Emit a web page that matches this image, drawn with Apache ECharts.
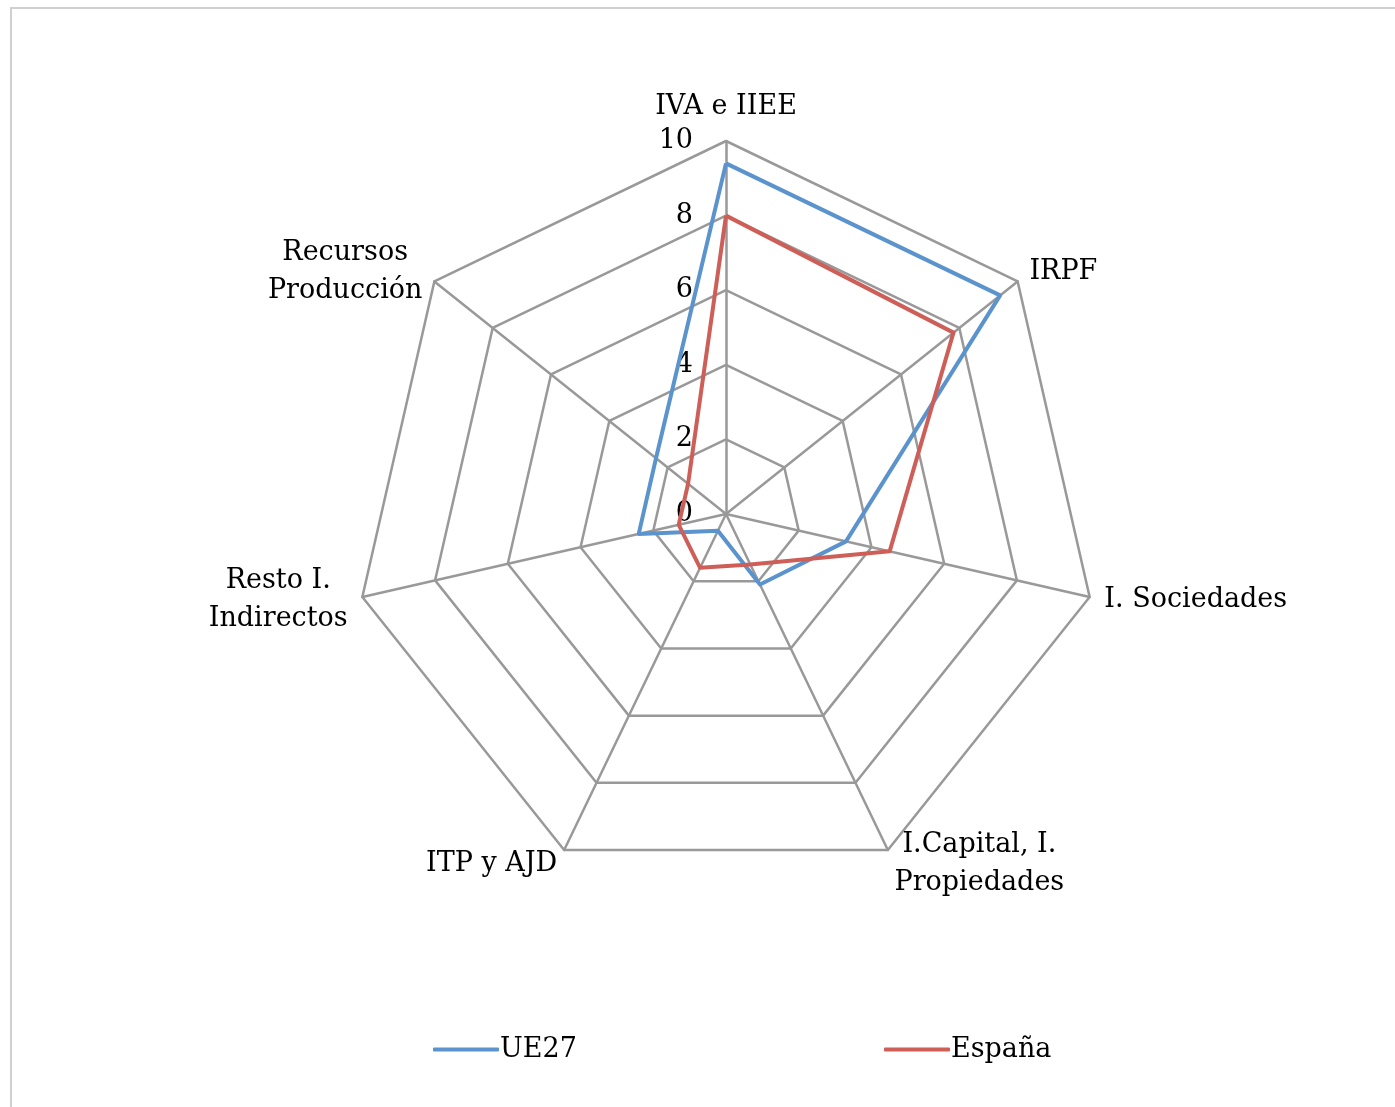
<!DOCTYPE html>
<html>
	<head>
		<meta charset="utf-8" />
		<title>Radar</title>
		<script src="https://cdn.jsdelivr.net/npm/echarts@6/dist/echarts.min.js"></script>
		<style>
			html, body { margin: 0; padding: 0; background: #fff; overflow: hidden; }
			#frame { position: absolute; left: 10px; top: 7px; width: 1400px; height: 1110px; border: 2px solid #d0d0d0; }
			#chart { position: absolute; left: 0; top: 0; width: 1395px; height: 1107px; }
		</style>
	</head>
	<body>
		<div id="frame"></div>
		<div id="chart"></div>
	<script type="text/javascript">
		// datos (orden del gráfico, en sentido horario desde arriba)
		var categories = ['IVA e IIEE', 'IRPF', 'I. Sociedades', 'I.Capital, I.\nPropiedades', 'ITP y AJD', 'Resto I.\nIndirectos', 'Recursos\nProducción'];
		var ue27 = [9.4, 9.4, 3.3, 2.1, 0.5, 2.4, 2.4];
		var espana = [8.0, 7.8, 4.5, 1.5, 1.6, 1.3, 1.3];
		var seriesNames = ['UE27', 'España'];
		var maxValue = 10;

		var font = 'DejaVu Serif';
		var fontSize = 27;

		// echarts dibuja el radar en sentido antihorario
		function ccw(arr) {
			var out = [arr[0]];
			for (var i = arr.length - 1; i > 0; i--) out.push(arr[i]);
			return out;
		}

		// ancho de la línea más larga, para centrar etiquetas de dos líneas
		var ctx = document.createElement('canvas').getContext('2d');
		ctx.font = fontSize + 'px "' + font + '"';
		function blockWidth(txt) {
			var w = 0;
			txt.split('\n').forEach(function (l) { w = Math.max(w, ctx.measureText(l).width); });
			return Math.ceil(w);
		}
		var rich = {};
		var indicator = ccw(categories).map(function (c, i) {
			rich['n' + i] = { width: blockWidth(c), align: 'center', fontFamily: font, fontSize: fontSize, lineHeight: 38, color: '#000' };
			return { name: c, max: maxValue, min: 0 };
		});

		var myChart = echarts.init(document.getElementById('chart'));
		var option = {
			backgroundColor: 'transparent',
			textStyle: { fontFamily: font },
			legend: [{
				data: [seriesNames[0]],
				left: 428, top: 1031,
				itemWidth: 66, itemHeight: 4,
				textStyle: { fontFamily: font, fontSize: fontSize, color: '#000', padding: [0, 0, 0, -4] }
			}, {
				data: [seriesNames[1]],
				left: 879, top: 1031,
				itemWidth: 66, itemHeight: 4,
				textStyle: { fontFamily: font, fontSize: fontSize, color: '#000', padding: [0, 0, 0, -4] }
			}],
			radar: [{
				center: [726, 514],
				radius: 373,
				startAngle: 90,
				splitNumber: 5,
				shape: 'polygon',
				indicator: indicator,
				axisName: {
					color: '#000',
					fontFamily: font,
					fontSize: fontSize,
					lineHeight: 38,
					formatter: function (name) {
						var i = ccw(categories).indexOf(name);
						return name.split('\n').map(function (l) { return '{n' + i + '|' + l + '}'; }).join('\n');
					},
					rich: rich
				},
				nameGap: 15,
				splitArea: { show: false },
				splitLine: { lineStyle: { color: '#999', width: 2.5 } },
				axisLine: { lineStyle: { color: '#999', width: 2.5 } }
			}, {
				// solo para las etiquetas del eje vertical
				center: [726, 514],
				radius: 373,
				startAngle: 90,
				splitNumber: 5,
				indicator: [{ name: '', max: maxValue, min: 0 }],
				splitArea: { show: false },
				splitLine: { show: false },
				axisLine: { show: false },
				axisTick: { show: false },
				axisLabel: { show: true, color: '#000', fontFamily: font, fontSize: fontSize, margin: 33, padding: [10, 0, 0, 0] }
			}],
			series: [{
				type: 'radar',
				radarIndex: 0,
				symbol: 'none',
				data: [{
					name: seriesNames[0], value: ccw(ue27),
					lineStyle: { color: '#5b93cd', width: 4 },
					itemStyle: { color: '#5b93cd' }
				}, {
					name: seriesNames[1], value: ccw(espana),
					lineStyle: { color: '#cd5f58', width: 4 },
					itemStyle: { color: '#cd5f58' }
				}]
			}]
		};
		myChart.setOption(option);
	</script>
	</body>
</html>
